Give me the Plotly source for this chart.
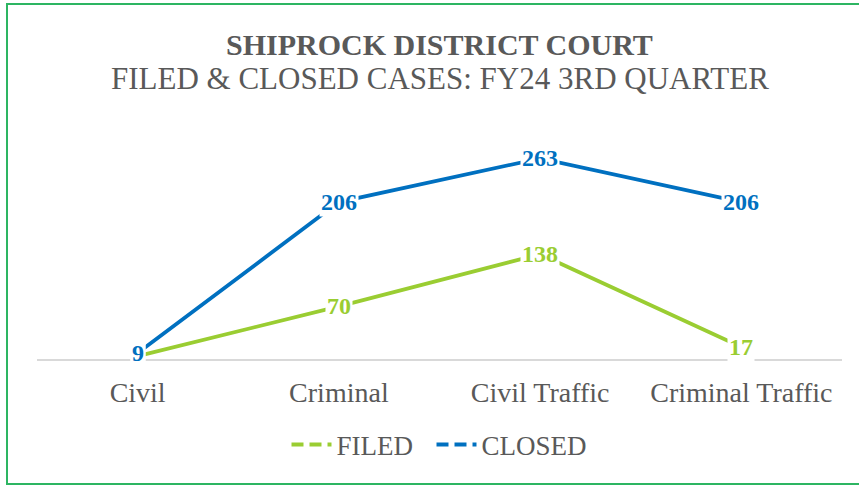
import plotly.graph_objects as go

categories = ["Civil", "Criminal", "Civil Traffic", "Criminal Traffic"]
filed = [5, 70, 138, 17]
closed = [9, 206, 263, 206]

GREEN = "#9ACD32"
BLUE = "#0070C0"
FONT = "'Liberation Serif', 'Times New Roman', serif"

L, T, PW, PH = 37, 130, 805, 230

fig = go.Figure()
fig.add_trace(go.Scatter(x=categories, y=filed, mode="lines", line=dict(color=GREEN, width=3.8),
                         showlegend=False, hoverinfo="skip"))
fig.add_trace(go.Scatter(x=categories, y=closed, mode="lines", line=dict(color=BLUE, width=3.8),
                         showlegend=False, hoverinfo="skip"))
# legend entries (dashed symbol like the original)
fig.add_trace(go.Scatter(x=[None], y=[None], mode="lines", name="FILED&nbsp;&nbsp;",
                         line=dict(color=GREEN, width=4, dash="12px,6px")))
fig.add_trace(go.Scatter(x=[None], y=[None], mode="lines", name="CLOSED",
                         line=dict(color=BLUE, width=4, dash="12px,6px")))

annotations = []
for series, color in ((filed, GREEN), (closed, BLUE)):
    for c, v in zip(categories, series):
        annotations.append(dict(x=c, y=v, xref="x", yref="y", text=f"<b>{v}</b>",
                                showarrow=False, bgcolor="white",
                                font=dict(family=FONT, size=24, color=color),
                                borderpad=1))
annotations.append(dict(x=0.5, y=(T + PH - 45) / PH, xref="paper", yref="paper", yanchor="middle",
                        xanchor="center", showarrow=False,
                        text="<b>SHIPROCK DISTRICT COURT</b>",
                        font=dict(family=FONT, size=30, color="#595959")))
annotations.append(dict(x=0.5, y=(T + PH - 78) / PH, xref="paper", yref="paper", yanchor="middle",
                        xanchor="center", showarrow=False,
                        text="FILED & CLOSED CASES: FY24 3RD QUARTER",
                        font=dict(family=FONT, size=31, color="#595959")))

fig.update_layout(
    width=859, height=485,
    margin=dict(l=L, r=859 - L - PW, t=T, b=485 - T - PH),
    paper_bgcolor="white", plot_bgcolor="white",
    xaxis=dict(type="category", range=[-0.5, 3.5], showgrid=False, showline=False, zeroline=False,
               ticks="outside", ticklen=7, tickcolor="rgba(0,0,0,0)",
               tickfont=dict(family=FONT, size=28, color="#595959")),
    yaxis=dict(range=[0, 300], showgrid=False, zeroline=True, zerolinecolor="#D9D9D9",
               zerolinewidth=2, showticklabels=False, showline=False),
    legend=dict(orientation="h", x=0.5, xanchor="center", y=-0.263, yanchor="top",
                font=dict(family=FONT, size=27, color="#595959"), itemwidth=40),
    annotations=annotations,
    shapes=[dict(type="rect", xref="paper", yref="paper",
                 x0=(7 - L) / PW, x1=(864 - L) / PW,
                 y0=(T + PH - 484) / PH, y1=(T + PH - 4) / PH,
                 line=dict(color="#2DB562", width=2), fillcolor="rgba(0,0,0,0)", layer="below")],
)

fig.write_html("out.html", config={"displayModeBar": False},
               post_script="document.body.style.margin='0px';")
